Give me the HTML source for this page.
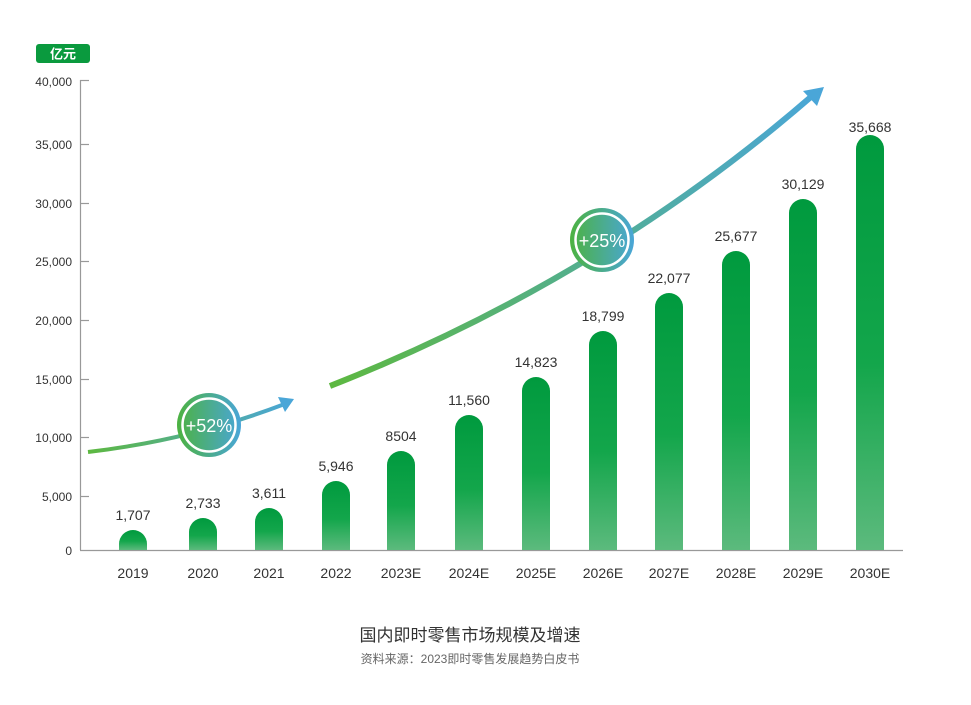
<!DOCTYPE html>
<html><head><meta charset="utf-8"><style>
html,body{margin:0;padding:0;background:#fff;}
svg{display:block;font-family:"Liberation Sans","Noto Sans CJK SC",sans-serif;}
</style></head><body>
<svg width="971" height="705" viewBox="0 0 971 705" xmlns="http://www.w3.org/2000/svg">
<defs>
<linearGradient id="bar" x1="0" y1="0" x2="0" y2="1">
<stop offset="0" stop-color="#009a3e"/><stop offset="0.55" stop-color="#13a64b"/><stop offset="1" stop-color="#5cba7d"/>
</linearGradient>
<linearGradient id="c1" x1="0" y1="0" x2="1" y2="0">
<stop offset="0" stop-color="#4cb240"/><stop offset="1" stop-color="#4aa6d8"/>
</linearGradient>
<linearGradient id="a1" x1="88" y1="0" x2="290" y2="0" gradientUnits="userSpaceOnUse">
<stop offset="0" stop-color="#5db840"/><stop offset="1" stop-color="#4aa6d8"/>
</linearGradient>
<linearGradient id="a2" x1="330" y1="0" x2="822" y2="0" gradientUnits="userSpaceOnUse">
<stop offset="0" stop-color="#5db840"/><stop offset="1" stop-color="#4aa6d8"/>
</linearGradient>
</defs>
<rect x="36" y="44" width="54" height="19" rx="3" fill="#0a9a3e"/>
<text x="63" y="58.5" font-size="13" font-weight="bold" fill="#fff" text-anchor="middle">亿元</text>
<g stroke="#999" stroke-width="1.2" fill="none">
<line x1="80.5" y1="80" x2="80.5" y2="550"/>
<line x1="80" y1="550.5" x2="903" y2="550.5"/>
<line x1="80" y1="80.5" x2="89" y2="80.5"/>
<line x1="80" y1="144.5" x2="89" y2="144.5"/>
<line x1="80" y1="203.5" x2="89" y2="203.5"/>
<line x1="80" y1="261.5" x2="89" y2="261.5"/>
<line x1="80" y1="320.5" x2="89" y2="320.5"/>
<line x1="80" y1="379.5" x2="89" y2="379.5"/>
<line x1="80" y1="437.5" x2="89" y2="437.5"/>
<line x1="80" y1="496.5" x2="89" y2="496.5"/>
</g>
<g font-size="12" fill="#333" text-anchor="end">
<text x="72" y="86">40,000</text><text x="72" y="149">35,000</text><text x="72" y="208">30,000</text>
<text x="72" y="266">25,000</text><text x="72" y="325">20,000</text><text x="72" y="384">15,000</text>
<text x="72" y="442">10,000</text><text x="72" y="501">5,000</text><text x="72" y="555">0</text>
</g>
<path d="M88 452 Q190 440 282 405" stroke="url(#a1)" stroke-width="4" fill="none"/>
<polygon points="294,399 278,397 285,412" fill="#4aa6d8"/>
<path d="M330 386 Q600 280 812 96" stroke="url(#a2)" stroke-width="6" fill="none"/>
<polygon points="824,87 803,91 817,106" fill="#4aa6d8"/>
<g fill="url(#bar)">
<path d="M119 550 V544 A14 14 0 0 1 147 544 V550 Z"/>
<path d="M189 550 V532 A14 14 0 0 1 217 532 V550 Z"/>
<path d="M255 550 V522 A14 14 0 0 1 283 522 V550 Z"/>
<path d="M322 550 V495 A14 14 0 0 1 350 495 V550 Z"/>
<path d="M387 550 V465 A14 14 0 0 1 415 465 V550 Z"/>
<path d="M455 550 V429 A14 14 0 0 1 483 429 V550 Z"/>
<path d="M522 550 V391 A14 14 0 0 1 550 391 V550 Z"/>
<path d="M589 550 V345 A14 14 0 0 1 617 345 V550 Z"/>
<path d="M655 550 V307 A14 14 0 0 1 683 307 V550 Z"/>
<path d="M722 550 V265 A14 14 0 0 1 750 265 V550 Z"/>
<path d="M789 550 V213 A14 14 0 0 1 817 213 V550 Z"/>
<path d="M856 550 V149 A14 14 0 0 1 884 149 V550 Z"/>
</g>
<g font-size="14" fill="#333" text-anchor="middle">
<text x="133" y="520">1,707</text>
<text x="203" y="508">2,733</text>
<text x="269" y="498">3,611</text>
<text x="336" y="471">5,946</text>
<text x="401" y="441">8504</text>
<text x="469" y="405">11,560</text>
<text x="536" y="367">14,823</text>
<text x="603" y="321">18,799</text>
<text x="669" y="283">22,077</text>
<text x="736" y="241">25,677</text>
<text x="803" y="189">30,129</text>
<text x="870" y="132">35,668</text>
<text x="133" y="578">2019</text>
<text x="203" y="578">2020</text>
<text x="269" y="578">2021</text>
<text x="336" y="578">2022</text>
<text x="401" y="578">2023E</text>
<text x="469" y="578">2024E</text>
<text x="536" y="578">2025E</text>
<text x="603" y="578">2026E</text>
<text x="669" y="578">2027E</text>
<text x="736" y="578">2028E</text>
<text x="803" y="578">2029E</text>
<text x="870" y="578">2030E</text>
</g>
<g>
<circle cx="209" cy="425" r="32" fill="url(#c1)"/>
<circle cx="209" cy="425" r="26.5" fill="none" stroke="#fff" stroke-width="2.5"/>
<text x="209" y="432" font-size="18" fill="#fff" text-anchor="middle">+52%</text>
<circle cx="602" cy="240" r="32" fill="url(#c1)"/>
<circle cx="602" cy="240" r="26.5" fill="none" stroke="#fff" stroke-width="2.5"/>
<text x="602" y="247" font-size="18" fill="#fff" text-anchor="middle">+25%</text>
</g>
<text x="470" y="641" font-size="17" fill="#333" text-anchor="middle">国内即时零售市场规模及增速</text>
<text x="470" y="663" font-size="12" fill="#666" text-anchor="middle">资料来源：2023即时零售发展趋势白皮书</text>
</svg>
</body></html>
